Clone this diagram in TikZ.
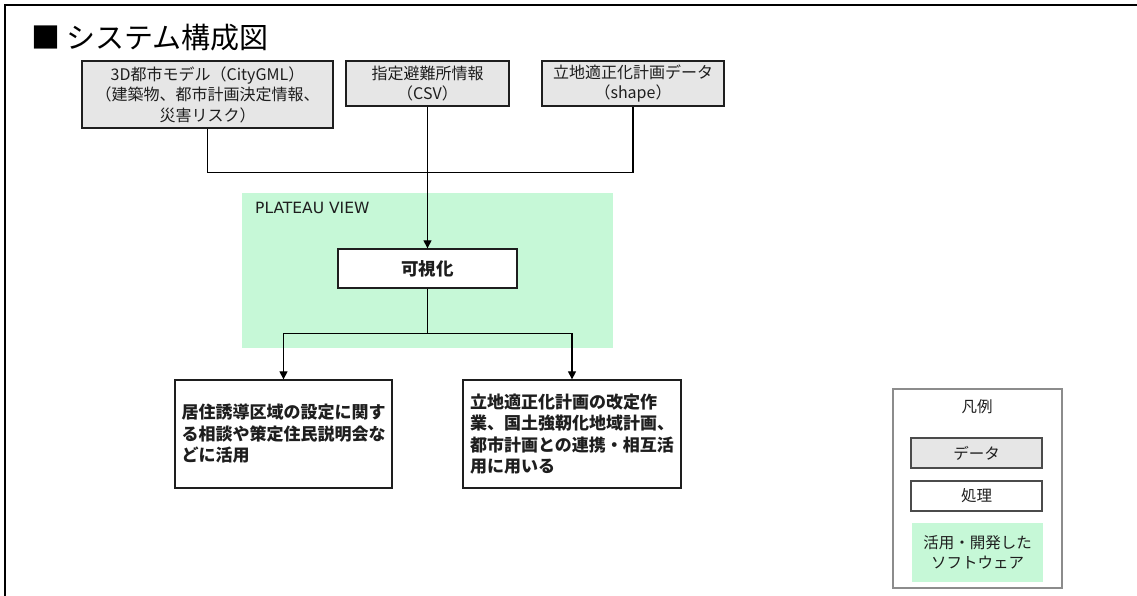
\documentclass[tikz,border=0pt]{standalone}
\usepackage{fontspec}
\setmainfont{Noto Sans CJK JP}
\newfontfamily\latinsans{DejaVu Sans}
\usetikzlibrary{arrows.meta}
\definecolor{mint}{RGB}{198,248,215}
\definecolor{datagray}{RGB}{230,230,230}
\definecolor{ink}{RGB}{30,30,30}
\definecolor{legendgray}{RGB}{140,140,140}
\tikzset{
  databox/.style={draw=ink, line width=1.3pt, fill=datagray, inner sep=0pt, align=center, text=ink,
    font=\fontsize{16}{20.5}\selectfont},
  procbox/.style={draw=ink, line width=1.3pt, fill=white, inner sep=0pt, text=ink},
  resultbox/.style={procbox, align=left, font=\fontsize{17}{21.5}\selectfont\bfseries},
  conn/.style={draw=black, line width=1.2pt},
  arr/.style={conn, -{Triangle[length=8pt,width=8pt]}},
  legtext/.style={font=\fontsize{15.5}{20}\selectfont, text=ink, align=center},
}
\begin{document}
\begin{tikzpicture}[x=1pt,y=-1pt]
\useasboundingbox (0,0) rectangle (1137,596);
% outer frame (top and left only visible)
\draw[line width=2pt, black] (5,596) -- (5,5) -- (1137,5);
% title
\node[anchor=west, inner sep=0pt, text=black] (title) at (31,38) {\fontsize{29}{32}\selectfont ■\hspace{6pt}システム構成図};
% software area
\node[fill=mint, draw=none, minimum width=371pt, minimum height=155pt, inner sep=0pt] (pv) at (427.5,270.5) {};
\node[anchor=west, inner sep=0pt, text=ink, font=\latinsans\fontsize{15.5}{18}\selectfont] (pvlabel) at (255,208) {PLATEAU VIEW};
% data boxes
\node[databox, minimum width=251pt, minimum height=67pt] (d1) at (207.5,94.5)
  {3D都市モデル（CityGML）\\（建築物、都市計画決定情報、\\災害リスク）};
\node[databox, minimum width=163pt, minimum height=45pt] (d2) at (427.5,83.5)
  {指定避難所情報\\（CSV）};
\node[databox, minimum width=182pt, minimum height=45pt] (d3) at (633,83.5)
  {立地適正化計画データ\\（shape）};
% process
\node[procbox, minimum width=179pt, minimum height=39pt, font=\fontsize{17.5}{20}\selectfont\bfseries] (vis) at (427.5,268.5) {可視化};
% results
\node[resultbox, minimum width=217pt, minimum height=108pt] (r1) at (283.5,434)
  {居住誘導区域の設定に関す\\る相談や策定住民説明会な\\どに活用};
\node[resultbox, minimum width=218pt, minimum height=108pt] (r2) at (572,434)
  {立地適正化計画の改定作\\業、国土強靭化地域計画、\\都市計画との連携・相互活\\用に用いる};
% connectors
\draw[conn] (d1.south) -- ++(0,44) -| (d3.south);
\draw[arr] (d2.south) -- (vis.north);
\draw[arr] (vis.south) -- ++(0,45) -| (r1.north);
\draw[arr] (vis.south) -- ++(0,45) -| (r2.north);
% legend
\node[draw=legendgray, line width=1.2pt, fill=white, minimum width=169pt, minimum height=199pt, inner sep=0pt] (legend) at (977.5,488.5) {};
\node[legtext] (legtitle) at (977,407) {凡例};
\node[databox, draw=ink!80, line width=1.1pt, minimum width=131pt, minimum height=30pt, font=\fontsize{15.5}{20}\selectfont] (ldata) at (976.5,453) {データ};
\node[procbox, draw=ink!80, line width=1.1pt, minimum width=131pt, minimum height=30pt, font=\fontsize{15.5}{20}\selectfont] (lproc) at (976.5,496) {処理};
\node[fill=mint, minimum width=131pt, minimum height=59pt, inner sep=0pt, legtext] (lsoft) at (977.5,552.5) {活用・開発した\\ソフトウェア};
\end{tikzpicture}
\end{document}
